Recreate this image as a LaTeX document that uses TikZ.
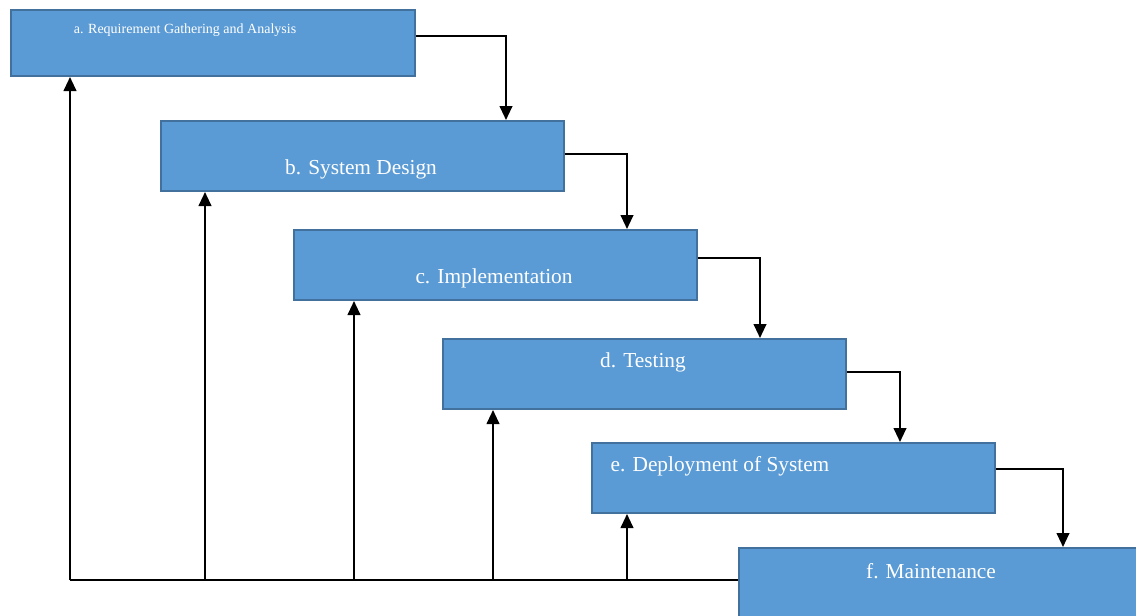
\documentclass[tikz,border=0pt]{standalone}
\usepackage{fontspec}
\setmainfont{Liberation Serif}
\usetikzlibrary{arrows.meta}
\definecolor{phasefill}{RGB}{91,155,213}
\definecolor{phaseline}{RGB}{65,113,156}
\tikzset{
  phase/.style={draw=phaseline, line width=1.5pt, fill=phasefill, anchor=north west, inner sep=0pt, minimum width=302pt, minimum height=52.5pt},
  phasetext/.style={text=white, inner sep=0.75pt, font=\fontsize{16}{19}\selectfont},
  flow/.style={line width=1.5pt, -{Triangle[length=10.5pt,width=9.5pt]}},
  base/.style={line width=1.3pt}
}
\begin{document}
\begin{tikzpicture}[x=0.75pt,y=0.75pt,yscale=-1,xscale=1]
\useasboundingbox (0,0) rectangle (1136,615);

% Phase boxes
\node [phase, minimum width=303pt, minimum height=49.5pt] (req) at (10,9) {};
\node [phase] (design) at (160,120) {};
\node [phase] (impl) at (293,229) {};
\node [phase] (test) at (442,338) {};
\node [phase] (deploy) at (591,442) {};
\node [phase, minimum width=309pt, minimum height=62pt] (maint) at (738,547) {};

% Text Nodes
\node [phasetext, font=\fontsize{10.5}{12}\selectfont] (req-text) at (185,30) {a. Requirement Gathering and Analysis};
\node [phasetext] (design-text) at (361,169) {b. System Design};
\node [phasetext] (impl-text) at (494,278) {c. Implementation};
\node [phasetext] (test-text) at (643,362) {d. Testing};
\node [phasetext] (deploy-text) at (720,466) {e. Deployment of System};
\node [phasetext] (maint-text) at (931,571) {f. Maintenance};

% Turning points of the forward flow
\coordinate (k1) at (506,0);
\coordinate (k2) at (627,0);
\coordinate (k3) at (760,0);
\coordinate (k4) at (900,0);
\coordinate (k5) at (1063,0);

% Forward flow
\draw [flow] ([yshift=-5pt]req.east) -| (design.north -| k1);
\draw [flow] ([yshift=-1.5pt]design.east) -| (impl.north -| k2);
\draw [flow] ([yshift=-5pt]impl.east) -| (test.north -| k3);
\draw [flow] ([yshift=-1.5pt]test.east) -| (deploy.north -| k4);
\draw [flow] ([yshift=-7pt]deploy.east) -| (maint.north -| k5);

% Feedback line
\coordinate (fb1) at (70,580);
\coordinate (fb2) at (205,580);
\coordinate (fb3) at (354,580);
\coordinate (fb4) at (493,580);
\coordinate (fb5) at (627,580);
\draw [base] (fb1) -- (fb1 -| maint.west);
\draw [flow] (fb1) -- (fb1 |- req.south);
\draw [flow] (fb2) -- (fb2 |- design.south);
\draw [flow] (fb3) -- (fb3 |- impl.south);
\draw [flow] (fb4) -- (fb4 |- test.south);
\draw [flow] (fb5) -- (fb5 |- deploy.south);

\end{tikzpicture}
\end{document}
